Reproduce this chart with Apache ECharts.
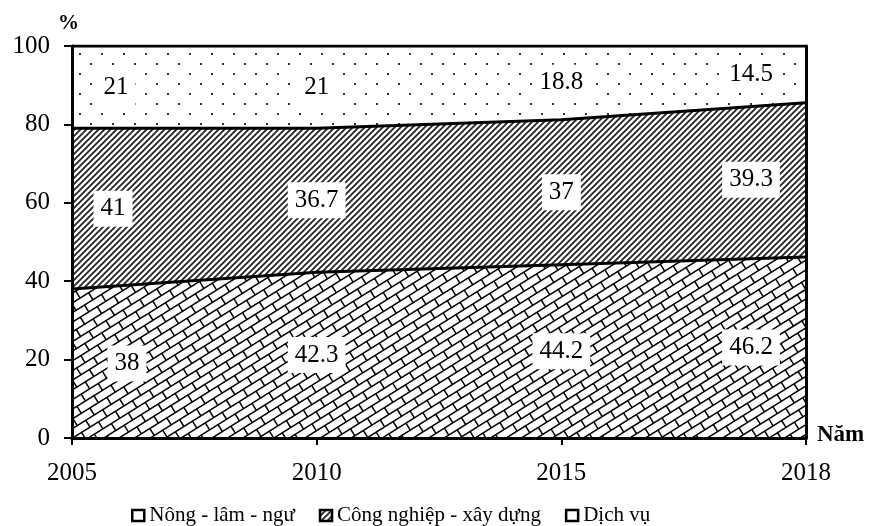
<!DOCTYPE html>
<html>
<head>
<meta charset="utf-8">
<script src="https://cdn.jsdelivr.net/npm/echarts@6/dist/echarts.min.js"></script>
<style>html,body{margin:0;padding:0;background:#fff}#c{width:870px;height:526px}</style>
</head>
<body>
<div id="c"></div>
<script>
// ---- data ----
const years = ['2005', '2010', '2015', '2018'];
const nongLamNgu = [38, 42.3, 44.2, 46.2];
const congNghiepXayDung = [41, 36.7, 37, 39.3];
const dichVu = [21, 21, 18.8, 14.5];
const seriesNames = ['Nông - lâm - ngư', 'Công nghiệp - xây dựng', 'Dịch vụ'];
const yMin = 0, yMax = 100, yStep = 20;

// ---- patterns ----
function brickPattern() {
  const c = document.createElement('canvas');
  c.width = 900; c.height = 560;
  const g = c.getContext('2d');
  g.fillStyle = '#fff'; g.fillRect(0, 0, c.width, c.height);
  g.strokeStyle = '#000'; g.lineWidth = 1.5;
  g.rotate(-32 * Math.PI / 180);
  const h = 8.2, L = 20;
  for (let r = -200; r < 200; r++) {
    const y = r * h;
    g.beginPath(); g.moveTo(-1500, y); g.lineTo(1500, y); g.stroke();
    const off = (Math.abs(r) % 2 === 0) ? 0 : L / 2;
    for (let x = -1500 + off; x < 1500; x += L) {
      g.beginPath(); g.moveTo(x, y); g.lineTo(x, y + h); g.stroke();
    }
  }
  return c;
}
function hatchPattern() {
  const s = 6;
  const c = document.createElement('canvas');
  c.width = s; c.height = s;
  const g = c.getContext('2d');
  g.fillStyle = '#fff'; g.fillRect(0, 0, s, s);
  g.strokeStyle = '#222'; g.lineWidth = 1.8;
  g.beginPath();
  g.moveTo(-1, s + 1); g.lineTo(s + 1, -1);
  g.moveTo(-1, 1); g.lineTo(1, -1);
  g.moveTo(s - 1, s + 1); g.lineTo(s + 1, s - 1);
  g.stroke();
  return c;
}
function dotPattern() {
  const c = document.createElement('canvas');
  c.width = 22; c.height = 20;
  const g = c.getContext('2d');
  g.fillStyle = '#fff'; g.fillRect(0, 0, 22, 20);
  g.fillStyle = '#333';
  g.fillRect(13, 13, 2, 2);
  g.fillRect(2, 3, 2, 2);
  return c;
}
const pBrick = { image: brickPattern(), repeat: 'repeat' };
const pHatch = { image: hatchPattern(), repeat: 'repeat' };
const pDots = { image: dotPattern(), repeat: 'repeat' };

const FONT = 'Liberation Serif';
const stacks = [nongLamNgu, congNghiepXayDung, dichVu];
const fills = [pBrick, pHatch, pDots];

// label points built from the data (midpoint of each band)
const firstShift = [55, 41, 44];
const labelData = [];
stacks.forEach((arr, k) => {
  arr.forEach((v, i) => {
    let base = 0;
    for (let j = 0; j < k; j++) base += stacks[j][i];
    let dx = 0;
    if (i === 0) dx = firstShift[k];
    if (i === arr.length - 1) dx = -55;
    labelData.push({ value: [i, base + v / 2], label: { formatter: String(v), offset: [dx, 0] } });
  });
});

const chart = echarts.init(document.getElementById('c'), null, { renderer: 'canvas' });
const lineSeries = stacks.map((arr, k) => ({
  name: seriesNames[k],
  type: 'line',
  stack: 'total',
  data: arr,
  symbol: 'none',
  z: 2,
  lineStyle: { color: '#000', width: 3 },
  itemStyle: { color: '#000' },
  areaStyle: { color: fills[k], opacity: 1 }
}));

chart.setOption({
  animation: false,
  backgroundColor: '#fff',
  textStyle: { fontFamily: FONT, color: '#000' },
  grid: { left: 72, right: 64, top: 46, bottom: 88, show: false },
  xAxis: [{
    type: 'category', data: years, boundaryGap: false, z: 10,
    axisLine: { show: true, lineStyle: { color: '#000', width: 3 } },
    axisTick: { show: true, length: 7, lineStyle: { color: '#000', width: 2 } },
    axisLabel: { fontFamily: FONT, fontSize: 25, color: '#000', margin: 23 },
    splitLine: { show: false }
  }, {
    type: 'category', data: years, boundaryGap: false, position: 'top', z: 10,
    axisLine: { show: true, lineStyle: { color: '#000', width: 3 } },
    axisTick: { show: false }, axisLabel: { show: false }, splitLine: { show: false }
  }],
  yAxis: [{
    type: 'value', min: yMin, max: yMax, interval: yStep, z: 10,
    axisLine: { show: true, lineStyle: { color: '#000', width: 3 } },
    axisTick: { show: true, length: 8, lineStyle: { color: '#000', width: 2 } },
    axisLabel: { fontFamily: FONT, fontSize: 25, color: '#000', margin: 22 },
    splitLine: { show: false }
  }, {
    type: 'value', min: yMin, max: yMax, interval: yStep, position: 'right', z: 10,
    axisLine: { show: true, lineStyle: { color: '#000', width: 3 } },
    axisTick: { show: false }, axisLabel: { show: false }, splitLine: { show: false }
  }],
  legend: {
    data: [
      { name: seriesNames[0], itemStyle: { color: '#fff', borderColor: '#000', borderWidth: 2.5 } },
      { name: seriesNames[1], itemStyle: { color: pHatch, borderColor: '#000', borderWidth: 2.5 } },
      { name: seriesNames[2], itemStyle: { color: '#fff', borderColor: '#000', borderWidth: 2.5 } }
    ],
    icon: 'rect', itemWidth: 12, itemHeight: 11, itemGap: 24,
    left: 126, top: 500,
    textStyle: { fontFamily: FONT, fontSize: 21, color: '#000' }
  },
  graphic: [
    { type: 'text', left: 58, top: 13, style: { text: '%', font: 'bold 21px "Liberation Serif"', fill: '#000' } },
    { type: 'text', left: 817, top: 424, style: { text: 'Năm', font: 'bold 23px "Liberation Serif"', fill: '#000' } }
  ],
  series: lineSeries.concat([{
    type: 'scatter', data: labelData, symbolSize: 0, z: 20, silent: true,
    itemStyle: { opacity: 1, color: '#000' },
    label: {
      show: true, position: 'inside', fontFamily: FONT, fontSize: 25, color: '#000', opacity: 1,
      backgroundColor: '#fff', padding: [6, 7, 5, 7]
    },
    emphasis: { disabled: true }
  }])
});
</script>
</body>
</html>
